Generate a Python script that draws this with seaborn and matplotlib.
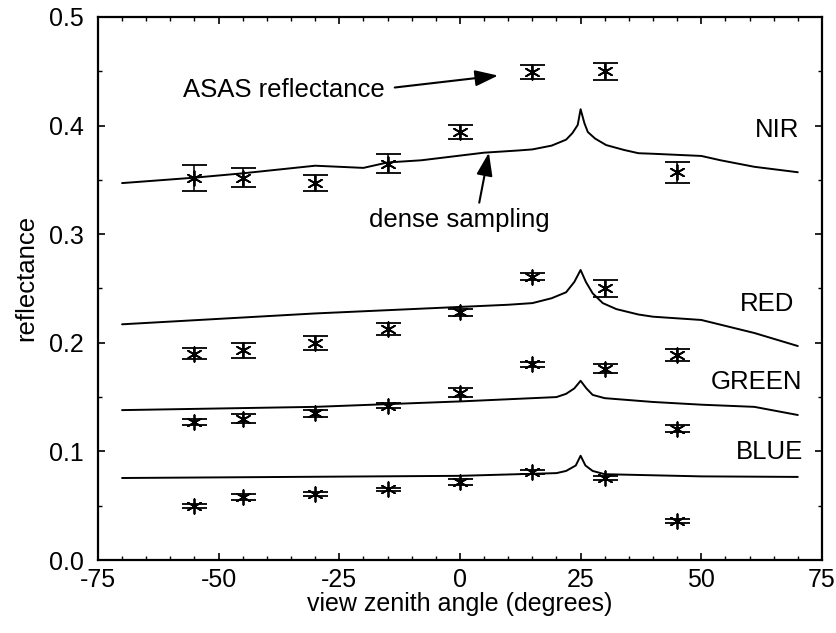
import matplotlib
matplotlib.use("Agg")
import matplotlib.pyplot as plt
from matplotlib.ticker import MultipleLocator, FormatStrFormatter
import seaborn as sns

# measured points (ASAS)
angles = [-55, -45, -30, -15, 0, 15, 30, 45]
nir = [0.352, 0.352, 0.347, 0.365, 0.394, 0.449, 0.450, 0.357]
nir_err = [0.012, 0.009, 0.007, 0.009, 0.0065, 0.0065, 0.008, 0.0095]
red = [0.190, 0.193, 0.200, 0.213, 0.228, 0.261, 0.250, 0.189]
red_err = [0.005, 0.007, 0.0065, 0.0055, 0.003, 0.003, 0.008, 0.0055]
green = [0.127, 0.130, 0.135, 0.142, 0.154, 0.180, 0.176, 0.121]
green_err = [0.003, 0.004, 0.003, 0.0025, 0.004, 0.002, 0.004, 0.003]
blue = [0.050, 0.058, 0.061, 0.065, 0.072, 0.081, 0.0755, 0.036]
blue_err = [0.002, 0.003, 0.002, 0.0015, 0.003, 0.002, 0.002, 0.002]

# dense sampling curves (hot spot at 25 degrees)
nir_x = [-70, -55, -45, -30, -20, -15, -8, 5, 12, 15, 19, 22, 23.3, 24.4, 25, 25.8, 26.5, 28, 30.3, 34,
         37, 40, 50, 54, 61, 70]
nir_y = [0.347, 0.352, 0.356, 0.363, 0.361, 0.366, 0.368, 0.375, 0.377, 0.378, 0.3815, 0.387, 0.393, 0.4005,
         0.415, 0.402, 0.394, 0.388, 0.382, 0.3775, 0.3745, 0.374, 0.372, 0.368, 0.362, 0.357]
red_x = [-70, -50, -30, -10, 0, 10, 15, 19, 22, 23.7, 25, 26.1, 27.5, 29.6, 32.4, 37, 40, 50, 61, 70]
red_y = [0.217, 0.222, 0.227, 0.231, 0.233, 0.235, 0.2365, 0.241, 0.2465, 0.256, 0.267, 0.256, 0.2455,
         0.2365, 0.231, 0.226, 0.224, 0.221, 0.209, 0.197]
green_x = [-70, -30, 0, 10, 20, 22, 23.7, 25, 26.2, 27.5, 30, 40, 50, 61, 70]
green_y = [0.138, 0.141, 0.146, 0.148, 0.150, 0.153, 0.158, 0.165, 0.158, 0.152, 0.149, 0.1455, 0.143,
           0.141, 0.1335]
blue_x = [-70, 0, 12, 20, 22, 24, 25, 26, 27.5, 30, 50, 70]
blue_y = [0.0755, 0.0775, 0.079, 0.080, 0.082, 0.087, 0.096, 0.087, 0.082, 0.079, 0.077, 0.0765]

band_names = ["NIR", "RED", "GREEN", "BLUE"]
band_label_y = [0.396, 0.236, 0.164, 0.0995]
band_label_x = [70.3, 69.2, 71.0, 71.0]

sns.set_theme(style="ticks")
plt.rcParams['font.family'] = ['Liberation Sans', 'DejaVu Sans']
plt.rcParams['axes.unicode_minus'] = False
plt.rcParams['text.color'] = 'black'
plt.rcParams['axes.labelcolor'] = 'black'

fig = plt.figure(figsize=(8.37, 6.33), dpi=100)
ax = fig.add_axes([0.117, 0.1153, 0.865, 0.858])

curves = [(nir_x, nir_y), (red_x, red_y), (green_x, green_y), (blue_x, blue_y)]
for cx, cy in curves:
    sns.lineplot(x=cx, y=cy, ax=ax, color="black", linewidth=1.4)

points = [(nir, nir_err), (red, red_err), (green, green_err), (blue, blue_err)]
for vals, errs in points:
    ax.errorbar(angles, vals, yerr=errs, fmt="none", ecolor="black",
                elinewidth=1.1, capsize=9, capthick=1.3)
    sns.scatterplot(x=angles, y=vals, ax=ax, marker=(6, 2, 0), s=110,
                    color="black", edgecolor="black", linewidth=1.3, zorder=3)

for name, lx, ly in zip(band_names, band_label_x, band_label_y):
    ax.text(lx, ly, name, ha="right", va="center", fontsize=18.5, color="black")

# annotations
ax.text(-57.3, 0.433, "ASAS reflectance", ha="left", va="center", fontsize=18.5, color="black")
ax.annotate("", xy=(7.9, 0.446), xytext=(-13.5, 0.435),
            arrowprops=dict(arrowstyle="-|>,head_length=1.0,head_width=0.35",
                            mutation_scale=14, lw=1.5, color="black",
                            shrinkA=0, shrinkB=0))
ax.text(-18.75, 0.313, "dense sampling", ha="left", va="center", fontsize=18.5, color="black")
ax.annotate("", xy=(6.0, 0.375), xytext=(4.0, 0.329),
            arrowprops=dict(arrowstyle="-|>,head_length=1.0,head_width=0.35",
                            mutation_scale=14, lw=1.5, color="black",
                            shrinkA=0, shrinkB=0))

ax.set_xlim(-75, 75)
ax.set_ylim(0.0, 0.5)
ax.xaxis.set_major_locator(MultipleLocator(25))
ax.xaxis.set_minor_locator(MultipleLocator(5))
ax.yaxis.set_major_locator(MultipleLocator(0.1))
ax.yaxis.set_minor_locator(MultipleLocator(0.05))
ax.yaxis.set_major_formatter(FormatStrFormatter("%.1f"))

ax.tick_params(which="both", direction="in", top=True, right=True, colors="black",
               labelcolor="black")
ax.tick_params(which="major", length=5, width=1.2)
ax.tick_params(which="minor", length=3, width=1.0)
ax.tick_params(axis="y", which="major", labelsize=18, pad=10)
ax.tick_params(axis="x", which="major", labelsize=18, pad=6)

for sp in ax.spines.values():
    sp.set_visible(True)
    sp.set_linewidth(1.6)
    sp.set_color("black")

ax.set_xlabel("view zenith angle (degrees)", fontsize=18, labelpad=0, color="black")
ax.set_ylabel("reflectance", fontsize=18.5, labelpad=8, color="black")
ax.yaxis.label.set_y(0.52)

fig.savefig("out.png", dpi=100)
